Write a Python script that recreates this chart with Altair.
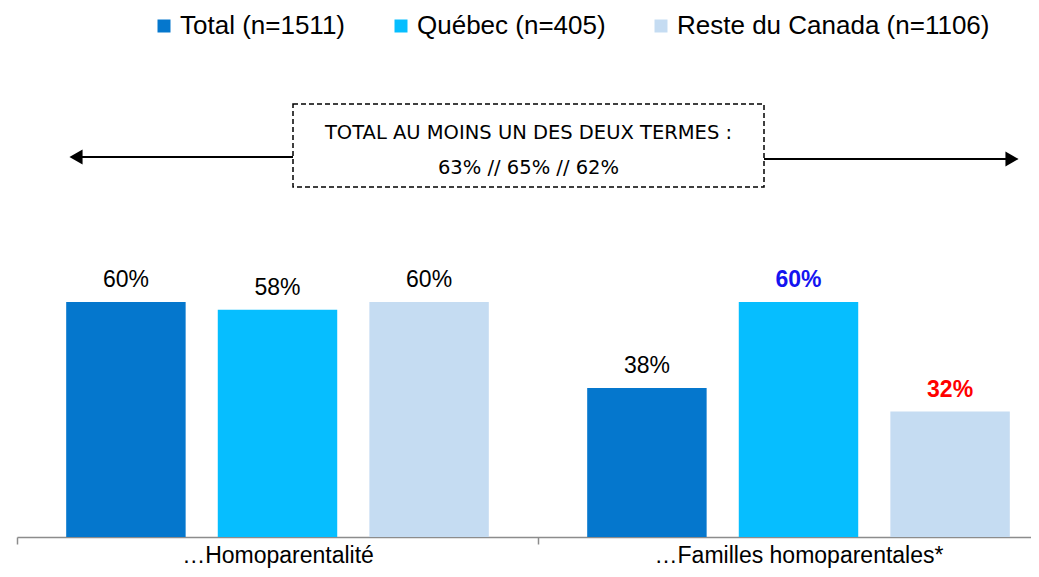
import altair as alt
import pandas as pd

categories = ["…Homoparentalité", "…Familles homoparentales*"]
series = ["Total (n=1511)", "Québec (n=405)", "Reste du Canada (n=1106)"]
values_homoparentalite = [60, 58, 60]
values_familles = [38, 60, 32]
signif_homoparentalite = ["", "", ""]
signif_familles = ["", "+", "-"]
box_lines = ["TOTAL AU MOINS UN DES DEUX TERMES :", "63% // 65% // 62%"]
colors = ["#0577CD", "#06BEFF", "#C5DCF2"]

rows = []
for cat, vals, sigs in [
    (categories[0], values_homoparentalite, signif_homoparentalite),
    (categories[1], values_familles, signif_familles),
]:
    for s, v, g in zip(series, vals, sigs):
        rows.append({"cat": cat, "series": s, "value": v, "sig": g})
df = pd.DataFrame(rows)

FONT = "Liberation Sans"

x_enc = alt.X(
    "cat:N",
    sort=categories,
    scale=alt.Scale(range=[0, 1042], paddingInner=0, paddingOuter=0),
    axis=alt.Axis(
        title=None,
        labelAngle=0,
        labelFont=FONT,
        labelFontSize=23,
        labelColor="#000000",
        labelBaseline="alphabetic",
        labelPadding=18,
        labelLimit=500,
        domainColor="#8C8C8C",
        domainWidth=1.5,
        tickColor="#8C8C8C",
        tickWidth=1.5,
        tickSize=7,
        tickBand="extent",
    ),
)
xoff_enc = alt.XOffset(
    "series:N", sort=series, scale=alt.Scale(paddingInner=0.212, paddingOuter=0.3245)
)
y_enc = alt.Y("value:Q", scale=alt.Scale(domain=[0, 135]), axis=None)

base = alt.Chart(df).encode(x=x_enc, xOffset=xoff_enc, y=y_enc)

bars = base.mark_bar().encode(
    color=alt.Color(
        "series:N",
        sort=series,
        scale=alt.Scale(domain=series, range=colors),
        legend=alt.Legend(
            orient="none",
            legendX=134,
            legendY=5,
            direction="horizontal",
            title=None,
            symbolType="square",
            symbolSize=169,
            symbolStrokeWidth=0,
            labelFont=FONT,
            labelFontSize=26,
            labelColor="#000000",
            labelOffset=3,
            columnPadding=42,
            labelLimit=600,
        ),
    )
)

labels_txt = base.transform_calculate(label="datum.value + '%'")
lab_norm = labels_txt.transform_filter("datum.sig == ''").mark_text(
    font=FONT, fontSize=23, color="#000000", baseline="alphabetic", dy=-15
).encode(text="label:N")
lab_up = labels_txt.transform_filter("datum.sig == '+'").mark_text(
    font=FONT, fontSize=23, color="#1414F0", fontWeight="bold", baseline="alphabetic", dy=-15
).encode(text="label:N")
lab_down = labels_txt.transform_filter("datum.sig == '-'").mark_text(
    font=FONT, fontSize=23, color="#FF0000", fontWeight="bold", baseline="alphabetic", dy=-15
).encode(text="label:N")

box_df = pd.DataFrame({"line": box_lines, "row": [0, 1]})
one = pd.DataFrame({"k": [0]})

box = alt.Chart(one).mark_rect(
    fill="white", stroke="#000000", strokeWidth=1.5, strokeDash=[5, 3]
).encode(x=alt.value(276), x2=alt.value(747), y=alt.value(96), y2=alt.value(179))

box_t1 = alt.Chart(box_df).transform_filter("datum.row == 0").mark_text(
    font="DejaVu Sans", fontSize=19.5, color="#000000", baseline="middle", align="center"
).encode(text="line:N", x=alt.value(511.5), y=alt.value(125))
box_t2 = alt.Chart(box_df).transform_filter("datum.row == 1").mark_text(
    font="DejaVu Sans", fontSize=19.5, color="#000000", baseline="middle", align="center"
).encode(text="line:N", x=alt.value(511.5), y=alt.value(160))

arrow_l = alt.Chart(one).mark_rule(color="#000000", strokeWidth=2).encode(
    x=alt.value(62), x2=alt.value(276), y=alt.value(149)
)
arrow_r = alt.Chart(one).mark_rule(color="#000000", strokeWidth=2).encode(
    x=alt.value(747), x2=alt.value(992), y=alt.value(151)
)
head_l = alt.Chart(one).mark_point(
    shape="triangle-left", filled=True, color="#000000", size=230, opacity=1
).encode(x=alt.value(59), y=alt.value(149))
head_r = alt.Chart(one).mark_point(
    shape="triangle-right", filled=True, color="#000000", size=230, opacity=1
).encode(x=alt.value(995), y=alt.value(151))

chart = alt.layer(
    bars, lab_norm, lab_up, lab_down, arrow_l, arrow_r, head_l, head_r, box, box_t1, box_t2
).properties(
    width=1014,
    height=529,
    autosize=alt.AutoSizeParams(type="none"),
    padding={"left": 9, "top": 0, "right": 0, "bottom": 32},
).configure_view(stroke=None)

chart.save("out.html", embed_options={"renderer": "svg", "actions": False})
